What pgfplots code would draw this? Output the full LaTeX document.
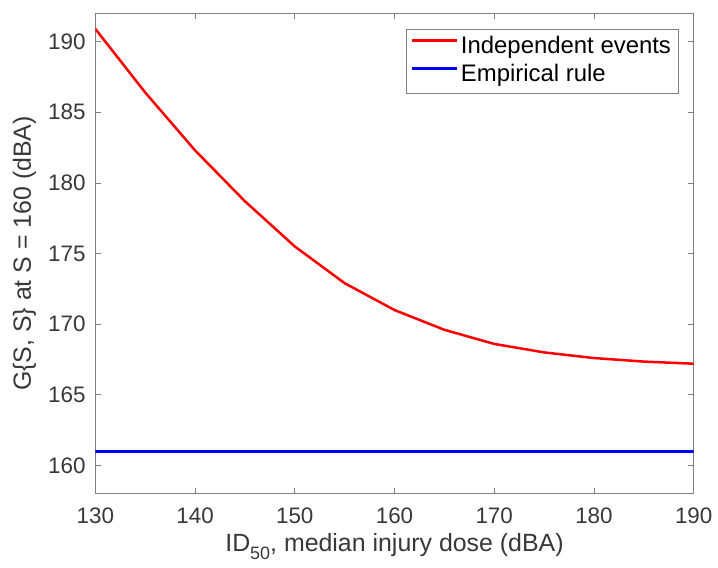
\documentclass[border=0pt]{standalone}
\usepackage{pgfplots}
\pgfplotsset{compat=1.18}
\usepackage{fontspec}
\setmainfont{Liberation Sans}
\definecolor{txt}{gray}{0.22}
\definecolor{axc}{gray}{0.5}
\begin{document}
\fontsize{22.5}{27}\selectfont
\begin{tikzpicture}
\begin{axis}[
  scale only axis,
  width=598.4bp, height=480.4bp,
  xmin=130, xmax=190, ymin=158, ymax=192,
  xtick={130,140,...,190},
  ytick={160,165,...,190},
  tick align=inside,
  major tick length=6bp,
  tick style={axc, line width=0.6bp},
  axis line style={axc, line width=0.6bp},
  ticklabel style={text=txt, font=\fontsize{22.5}{27}\selectfont},
  /pgf/number format/assume math mode=true,
  /pgf/number format/1000 sep={},
  xticklabel style={yshift=-6bp},
  yticklabel style={xshift=-2bp},
  xlabel={ID\raisebox{-8bp}{\fontsize{18}{20}\selectfont 50}, median injury dose (dBA)},
  ylabel={G\{S, S\} at S = 160 (dBA)},
  label style={text=txt, font=\fontsize{25}{29}\selectfont},
  xlabel style={yshift=5bp},
  ylabel style={yshift=-3bp},
  legend style={at={(1,1)}, anchor=north east, xshift=-15.4bp, yshift=-15.7bp,
    draw=axc, line width=0.6bp, font=\fontsize{24}{28}\selectfont, text=black,
    inner xsep=4bp, inner ysep=4bp, row sep=0bp,
    nodes={text height=17bp, text depth=5bp, inner sep=3bp}},
  legend cell align=left,
  legend image code/.code={\draw[#1, line width=2.5bp] (0bp,0.3em) -- (45bp,0.3em);},
]
\addplot[red, line width=2.5bp] coordinates {
(130,190.9) (135,186.4) (140,182.3) (145,178.7) (150,175.5) (155,172.9)
(160,171.0) (165,169.6) (170,168.6) (175,168.0) (180,167.6) (185,167.35) (190,167.2)
};
\addlegendentry{Independent events}
\addplot[blue, line width=2.5bp] coordinates {(130,161) (190,161)};
\addlegendentry{Empirical rule}
\end{axis}
\pgfresetboundingbox
\path[use as bounding box] ([shift={(-95.3bp,-74.3bp)}]current axis.south west) rectangle ([shift={(24.3bp,13.3bp)}]current axis.north east);
\end{tikzpicture}
\end{document}
